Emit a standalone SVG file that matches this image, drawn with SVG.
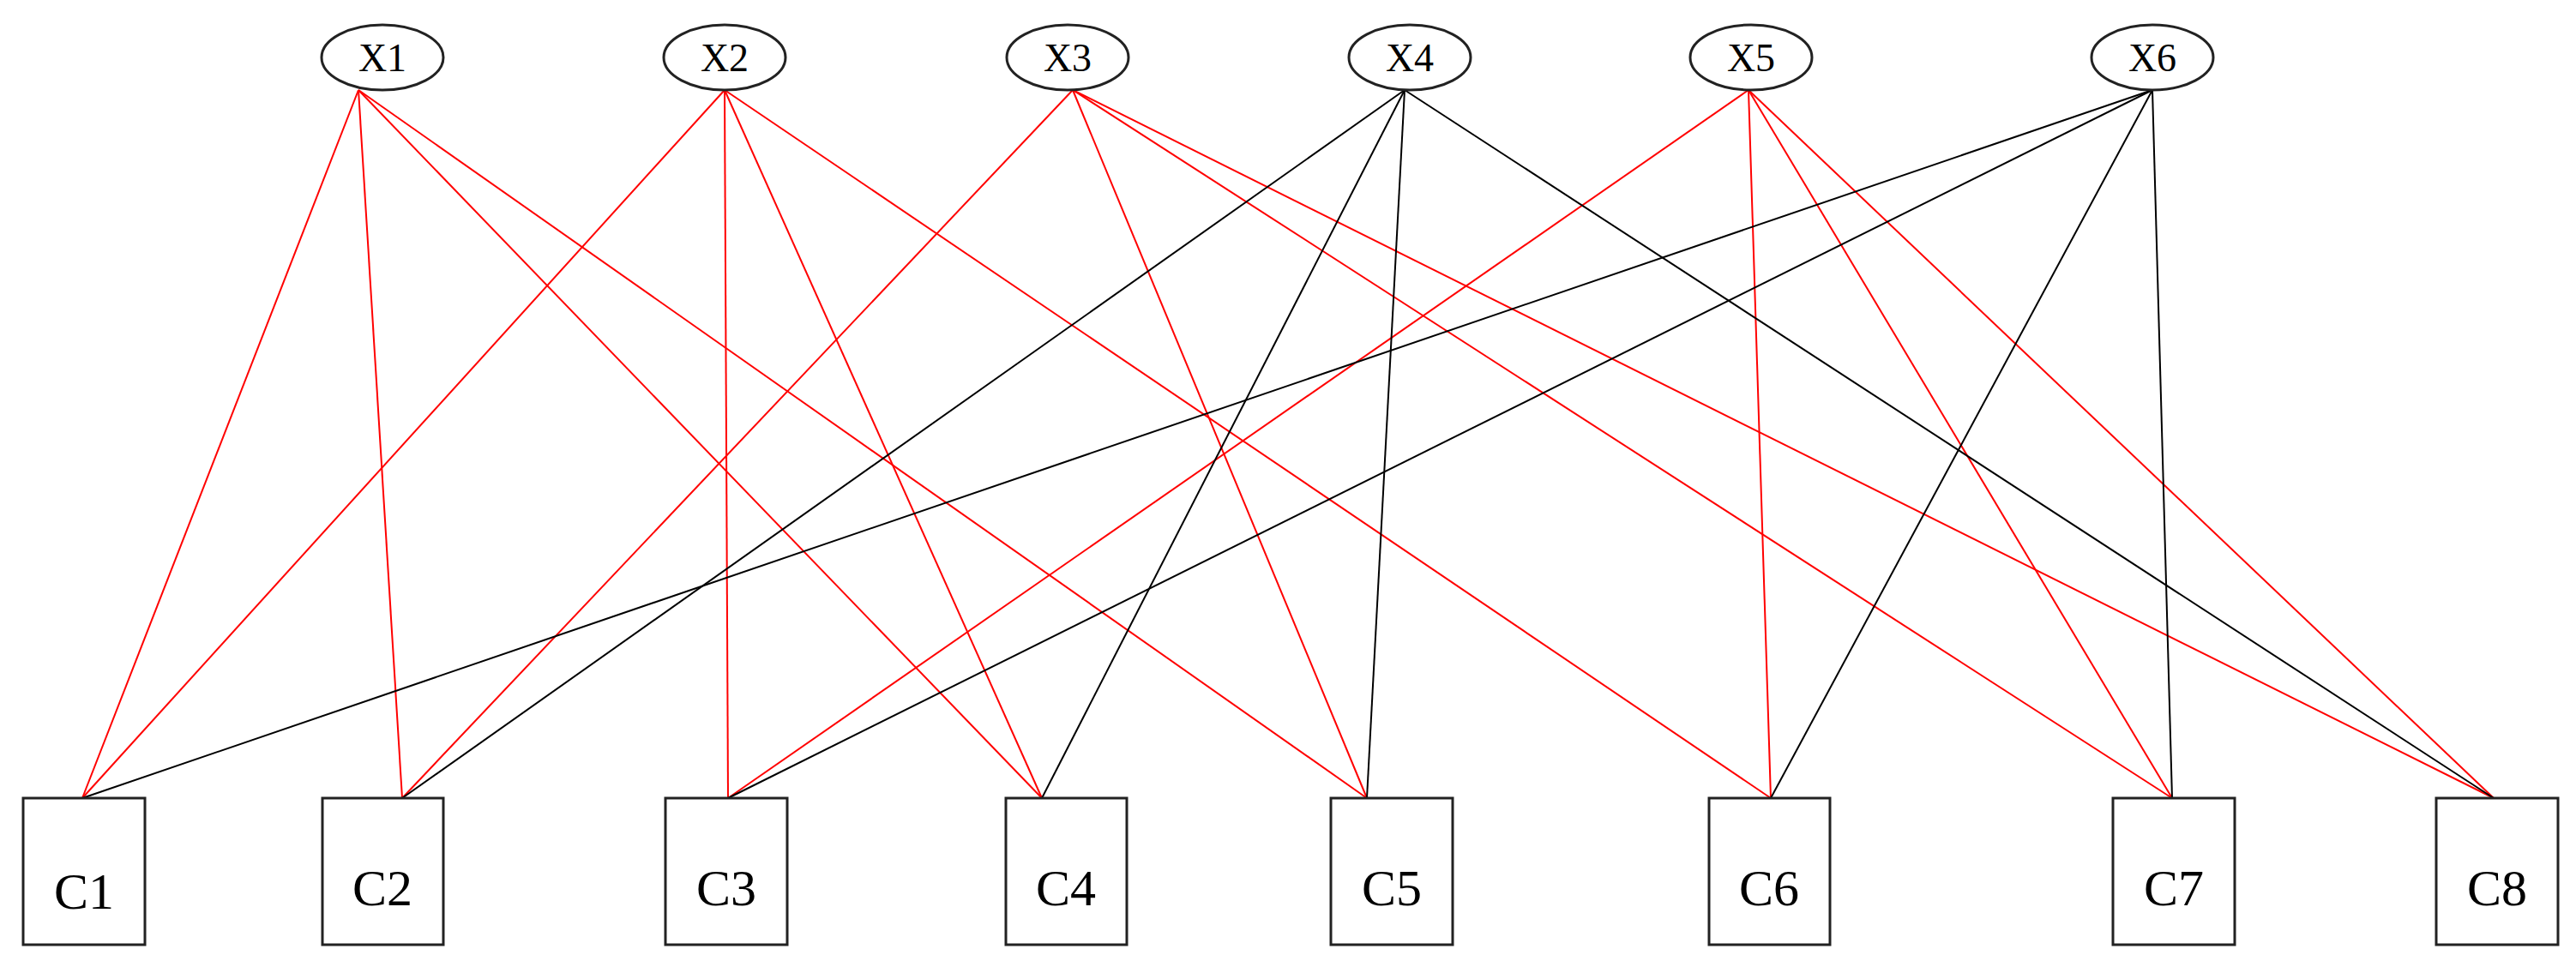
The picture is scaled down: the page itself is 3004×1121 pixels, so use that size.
<svg xmlns="http://www.w3.org/2000/svg" width="3004" height="1121" viewBox="0 0 3004 1121">
<style>
.n ellipse,.n rect{fill:#fff;stroke:#222;stroke-width:3}
text{font-family:"Liberation Serif",serif;fill:#000;text-anchor:middle}
.t{font-size:46px}.b{font-size:60px}
.r line{stroke:#f00;stroke-width:2}
.k line{stroke:#000;stroke-width:2}
</style>
<rect width="3004" height="1121" fill="#fff"/>
<g id="edges">
<g class="r">
<line x1="418" y1="105" x2="96" y2="931"/><line x1="418" y1="105" x2="469" y2="931"/><line x1="418" y1="105" x2="1215" y2="931"/><line x1="418" y1="105" x2="1594" y2="931"/>
<line x1="845" y1="105" x2="96" y2="931"/><line x1="845" y1="105" x2="849" y2="931"/><line x1="845" y1="105" x2="1215" y2="931"/><line x1="845" y1="105" x2="2065" y2="931"/>
<line x1="1251" y1="105" x2="469" y2="931"/><line x1="1251" y1="105" x2="1594" y2="931"/><line x1="1251" y1="105" x2="2533" y2="931"/><line x1="1251" y1="105" x2="2908" y2="931"/>
<line x1="2039" y1="105" x2="849" y2="931"/><line x1="2039" y1="105" x2="2065" y2="931"/><line x1="2039" y1="105" x2="2533" y2="931"/><line x1="2039" y1="105" x2="2908" y2="931"/>
</g>
<g class="k">
<line x1="1638" y1="105" x2="469" y2="931"/><line x1="1638" y1="105" x2="1215" y2="931"/><line x1="1638" y1="105" x2="1594" y2="931"/><line x1="1638" y1="105" x2="2908" y2="931"/>
<line x1="2510" y1="105" x2="96" y2="931"/><line x1="2510" y1="105" x2="849" y2="931"/><line x1="2510" y1="105" x2="2065" y2="931"/><line x1="2510" y1="105" x2="2533" y2="931"/>
</g>
</g>
<g id="X1" class="n"><ellipse cx="446" cy="67" rx="71" ry="38"/><text class="t" x="446" y="83">X1</text></g>
<g id="X2" class="n"><ellipse cx="845" cy="67" rx="71" ry="38"/><text class="t" x="845" y="83">X2</text></g>
<g id="X3" class="n"><ellipse cx="1245" cy="67" rx="71" ry="38"/><text class="t" x="1245" y="83">X3</text></g>
<g id="X4" class="n"><ellipse cx="1644" cy="67" rx="71" ry="38"/><text class="t" x="1644" y="83">X4</text></g>
<g id="X5" class="n"><ellipse cx="2042" cy="67" rx="71" ry="38"/><text class="t" x="2042" y="83">X5</text></g>
<g id="X6" class="n"><ellipse cx="2510" cy="67" rx="71" ry="38"/><text class="t" x="2510" y="83">X6</text></g>
<g id="C1" class="n"><rect x="27" y="931" width="142" height="171"/><text class="b" x="98" y="1060">C1</text></g>
<g id="C2" class="n"><rect x="376" y="931" width="141" height="171"/><text class="b" x="446" y="1056">C2</text></g>
<g id="C3" class="n"><rect x="776" y="931" width="142" height="171"/><text class="b" x="847" y="1056">C3</text></g>
<g id="C4" class="n"><rect x="1173" y="931" width="141" height="171"/><text class="b" x="1243" y="1056">C4</text></g>
<g id="C5" class="n"><rect x="1552" y="931" width="142" height="171"/><text class="b" x="1623" y="1056">C5</text></g>
<g id="C6" class="n"><rect x="1993" y="931" width="141" height="171"/><text class="b" x="2063" y="1056">C6</text></g>
<g id="C7" class="n"><rect x="2464" y="931" width="142" height="171"/><text class="b" x="2535" y="1056">C7</text></g>
<g id="C8" class="n"><rect x="2841" y="931" width="142" height="171"/><text class="b" x="2912" y="1056">C8</text></g>
</svg>
